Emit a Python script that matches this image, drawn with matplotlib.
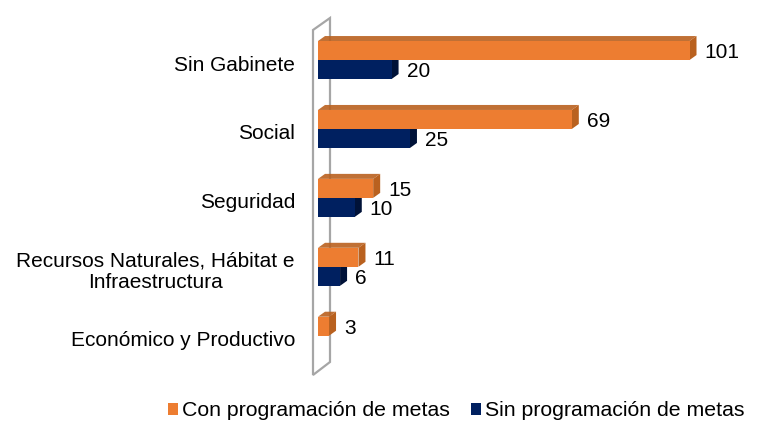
import matplotlib.pyplot as plt
from matplotlib.patches import Polygon, Patch
from matplotlib.transforms import ScaledTranslation

plt.rcParams['font.family'] = ['Liberation Sans', 'DejaVu Sans']

# data
categories = ['Sin Gabinete', 'Social', 'Seguridad',
              'Recursos Naturales, Hábitat e\nInfraestructura',
              'Económico y Productivo']
con_metas = [101, 69, 15, 11, 3]
sin_metas = [20, 25, 10, 6, 0]
series_names = ['Con programación de metas', 'Sin programación de metas']

orange, orange_dark = '#ED7D31', '#B9611F'
navy, navy_dark = '#002060', '#001238'

fig = plt.figure(figsize=(7.61, 4.32), dpi=100)
ax = fig.add_axes([318 / 761, 57 / 432, 423 / 761, 357 / 432])
xmax = 115
ax.set_xlim(0, xmax)
ax.set_ylim(4.57, -0.61)
ax.axis('off')

# pixel -> data conversion for the 3d depth
ppx = 423 / xmax
ppy = 357 / (4.57 + 0.61)
h = 19 / ppy
ddx, ddy = 7 / ppx, 5 / ppy

# back wall
wx0, wx1 = -5 / ppx, 12 / ppx
wall = Polygon([(wx0, -0.61 + 12 / ppy), (wx1, -0.61), (wx1, 4.57 - 13 / ppy),
                (wx0, 4.57)], closed=True, facecolor='white',
               edgecolor='#A6A6A6', lw=1.6, clip_on=False, zorder=1)
ax.add_patch(wall)


def bar3d(y, w, front, dark):
    if w <= 0:
        return
    top = y - h / 2
    bot = y + h / 2
    ax.add_patch(Polygon([(0, top), (w, top), (w, bot), (0, bot)],
                         facecolor=front, edgecolor='none', zorder=3))
    ax.add_patch(Polygon([(0, top), (ddx, top - ddy), (w + ddx, top - ddy), (w, top)],
                         facecolor=dark, edgecolor='none', zorder=2, alpha=0.9))
    ax.add_patch(Polygon([(w, top), (w + ddx, top - ddy), (w + ddx, bot - ddy), (w, bot)],
                         facecolor=dark, edgecolor='none', zorder=2))
    ax.text(w + ddx + 8 / ppx, y + 2 / ppy, str(w), va='center', ha='left',
            fontsize=15, color='black', zorder=4)


for i in range(len(categories)):
    bar3d(i - h / 2, con_metas[i], orange, orange_dark)
    bar3d(i + h / 2, sin_metas[i], navy, navy_dark)

# category labels
off = ScaledTranslation(0, -5 / 100, fig.dpi_scale_trans)
for i, c in enumerate(categories):
    ax.text(-23 / ppx, i, c, ha='right', va='center', multialignment='center',
            fontsize=15, transform=ax.transData + off, clip_on=False)

handles = [Patch(facecolor=orange), Patch(facecolor=navy)]
fig.legend(handles, series_names, loc='center', bbox_to_anchor=(456 / 761, 1 - 411 / 432),
           ncol=2, frameon=False, fontsize=15.3, handlelength=0.5, handleheight=0.5,
           handletextpad=0.15, columnspacing=1.0, borderaxespad=0)

fig.savefig('out.png', dpi=100)
